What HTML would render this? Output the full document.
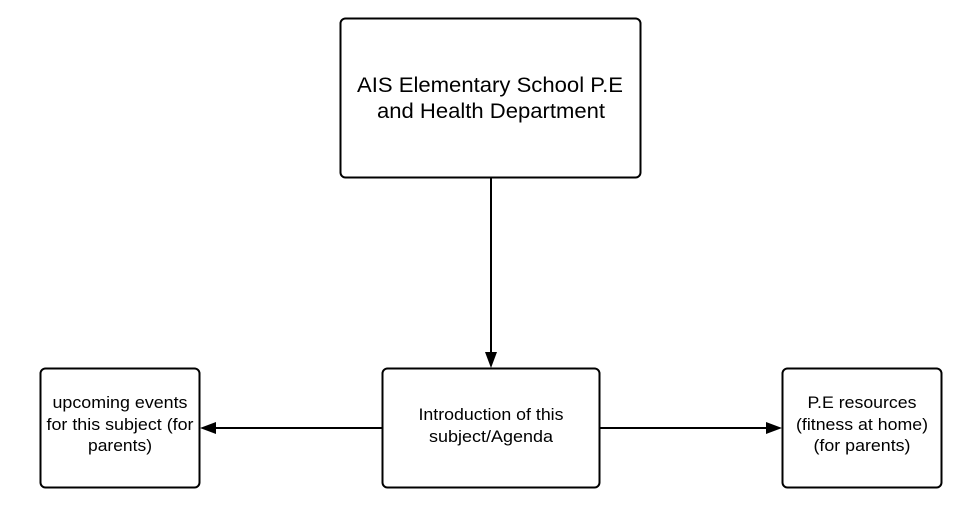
<!DOCTYPE html>
<html><head><meta charset="utf-8"><style>
html,body{margin:0;padding:0;background:#fff;}
svg{display:block;}
text{font-family:"Liberation Sans",Arial,sans-serif;fill:#000;}
</style></head><body>
<svg width="962" height="505" viewBox="0 0 962 505" xmlns="http://www.w3.org/2000/svg">
<g fill="#fff" stroke="#000" stroke-width="2">
<rect x="340.5" y="18.5" width="300" height="159" rx="5"/>
<rect x="382.5" y="368.5" width="217" height="119" rx="5"/>
<rect x="40.5" y="368.5" width="159" height="119" rx="5"/>
<rect x="782.5" y="368.5" width="159" height="119" rx="5"/>
</g>
<g stroke="#000" stroke-width="2">
<line x1="491" y1="178" x2="491" y2="354"/>
<line x1="382" y1="428" x2="214" y2="428"/>
<line x1="600" y1="428" x2="768" y2="428"/>
</g>
<g fill="#000">
<polygon points="485,352 497,352 491,368"/>
<polygon points="216,422 216,434 200,428"/>
<polygon points="766,422 766,434 782,428"/>
</g>
<g font-size="21" text-anchor="middle">
<text x="490" y="92" textLength="266" lengthAdjust="spacingAndGlyphs">AIS Elementary School P.E</text>
<text x="491" y="118" textLength="228" lengthAdjust="spacingAndGlyphs">and Health Department</text>
</g>
<g font-size="16.5" text-anchor="middle">
<text x="491" y="420" textLength="145" lengthAdjust="spacingAndGlyphs">Introduction of this</text>
<text x="491" y="442" textLength="124" lengthAdjust="spacingAndGlyphs">subject/Agenda</text>
<text x="120" y="408" textLength="135" lengthAdjust="spacingAndGlyphs">upcoming events</text>
<text x="120" y="430" textLength="147" lengthAdjust="spacingAndGlyphs">for this subject (for</text>
<text x="120" y="451" textLength="64" lengthAdjust="spacingAndGlyphs">parents)</text>
<text x="862" y="408" textLength="109" lengthAdjust="spacingAndGlyphs">P.E resources</text>
<text x="862" y="430" textLength="132" lengthAdjust="spacingAndGlyphs">(fitness at home)</text>
<text x="862" y="451" textLength="97" lengthAdjust="spacingAndGlyphs">(for parents)</text>
</g>
</svg>
</body></html>
